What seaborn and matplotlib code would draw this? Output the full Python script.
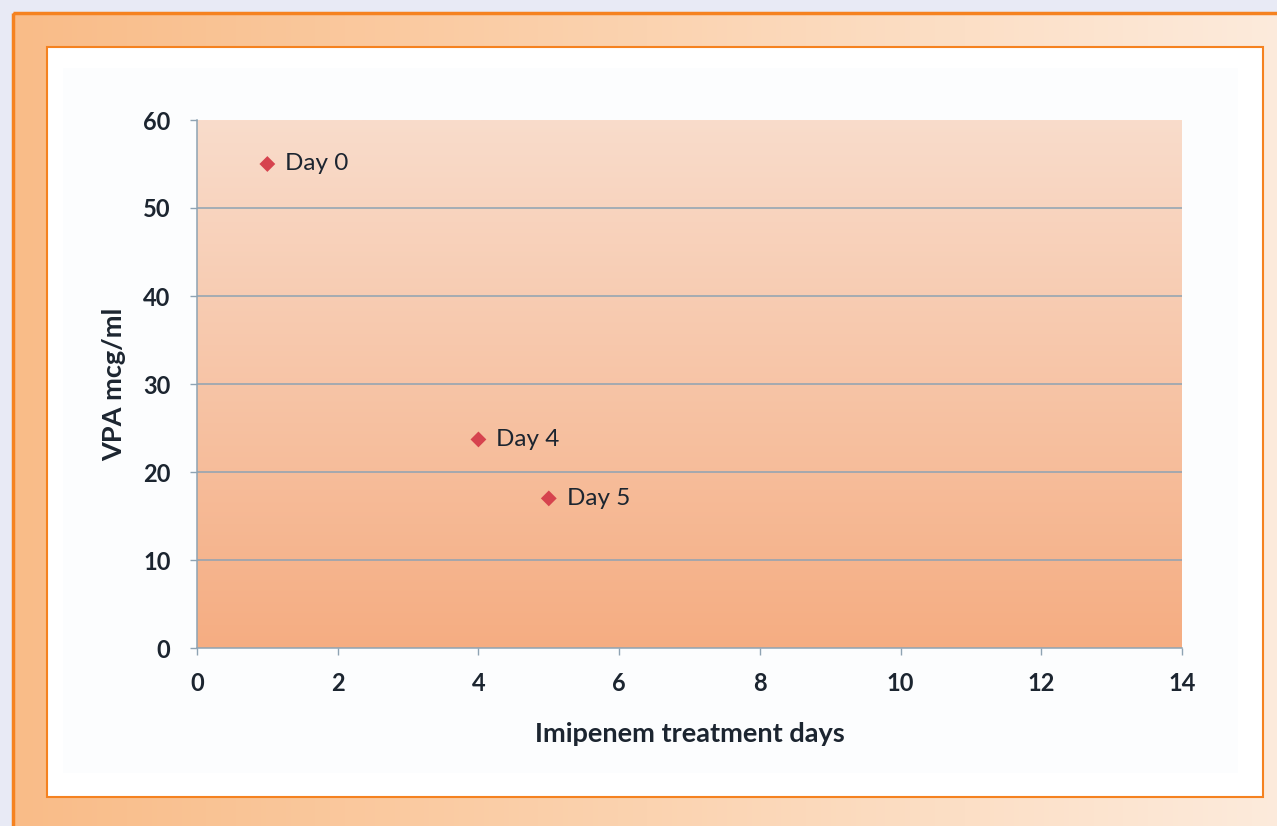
import numpy as np
import pandas as pd
import matplotlib
matplotlib.use("Agg")
import matplotlib.pyplot as plt
import seaborn as sns
from matplotlib.colors import LinearSegmentedColormap
from matplotlib.patches import Rectangle

# Valproic acid levels during imipenem treatment
days = [1, 4, 5]
vpa = [55, 23.7, 17]
labels = ["Day 0", "Day 4", "Day 5"]
x_ticks = [0, 2, 4, 6, 8, 10, 12, 14]
y_ticks = [0, 10, 20, 30, 40, 50, 60]

df = pd.DataFrame({"day": days, "vpa": vpa, "label": labels})

sns.set_theme(style="white")
plt.rcParams["font.family"] = ["Lato", "DejaVu Sans"]

W, H = 1277, 826
fig = plt.figure(figsize=(W / 100, H / 100), dpi=100)
fig.patch.set_facecolor("#E8EAF5")

# Background frame drawn in pixel coordinates
bg = fig.add_axes([0, 0, 1, 1], zorder=0)
bg.set_xlim(0, W)
bg.set_ylim(H, 0)
bg.axis("off")
frame_cmap = LinearSegmentedColormap.from_list("frame", ["#F9BC88", "#FBD3B0", "#FDEBDC"])
grad = np.linspace(0, 1, 256).reshape(1, -1)
bg.imshow(grad, cmap=frame_cmap, extent=[13, W + 5, H + 5, 13], aspect="auto", zorder=1)
bg.add_patch(Rectangle((13, 13), W, H, fill=False, edgecolor="#F58220", lw=2.5, zorder=2))
bg.add_patch(Rectangle((47, 47), 1216, 750, facecolor="white", edgecolor="#F58220", lw=1.5, zorder=3))
bg.add_patch(Rectangle((63, 68), 1175, 705, facecolor="#FCFDFE", edgecolor="none", zorder=4))

# Plot area
left, right, top, bottom = 197, 1182, 120, 648
ax = fig.add_axes([left / W, 1 - bottom / H, (right - left) / W, (bottom - top) / H], zorder=5)
ax.set_xlim(0, 14)
ax.set_ylim(0, 60)

plot_cmap = LinearSegmentedColormap.from_list("plot", ["#F5AD82", "#F9DCCB"])
vgrad = np.linspace(0, 1, 256).reshape(-1, 1)
ax.imshow(vgrad, cmap=plot_cmap, origin="lower", extent=[0, 14, 0, 60], aspect="auto", zorder=0)

for y in y_ticks[1:-1]:
    ax.axhline(y, color="#8EA3B3", lw=1.1, zorder=1)

sns.scatterplot(data=df, x="day", y="vpa", marker="D", s=65, color="#D6434E",
                edgecolor="none", ax=ax, zorder=3, legend=False)
for _, r in df.iterrows():
    ax.annotate(r["label"], (r["day"], r["vpa"]), xytext=(13, 0), textcoords="offset points",
                va="center", ha="left", fontsize=17.5, color="#1C2530", zorder=4)

ax.set_xticks(x_ticks)
ax.set_yticks(y_ticks)
ax.tick_params(axis="both", which="major", length=5, width=1, color="#8EA3B3",
               labelsize=17, labelcolor="#1C2530", direction="out")
ax.tick_params(axis="x", pad=12)
ax.tick_params(axis="y", pad=14)
ax.tick_params(bottom=True, left=True)
for lab in ax.get_xticklabels() + ax.get_yticklabels():
    lab.set_fontweight("bold")

for side in ["top", "right"]:
    ax.spines[side].set_visible(False)
for side in ["left", "bottom"]:
    ax.spines[side].set_color("#8EA3B3")
    ax.spines[side].set_linewidth(1.1)

ax.set_xlabel("Imipenem treatment days", fontsize=19.5, fontweight="bold", color="#1C2530", labelpad=20)
ax.set_ylabel("VPA mcg/ml", fontsize=19.5, fontweight="bold", color="#1C2530", labelpad=12)
ax.grid(False)

fig.savefig("out.png", dpi=100)
